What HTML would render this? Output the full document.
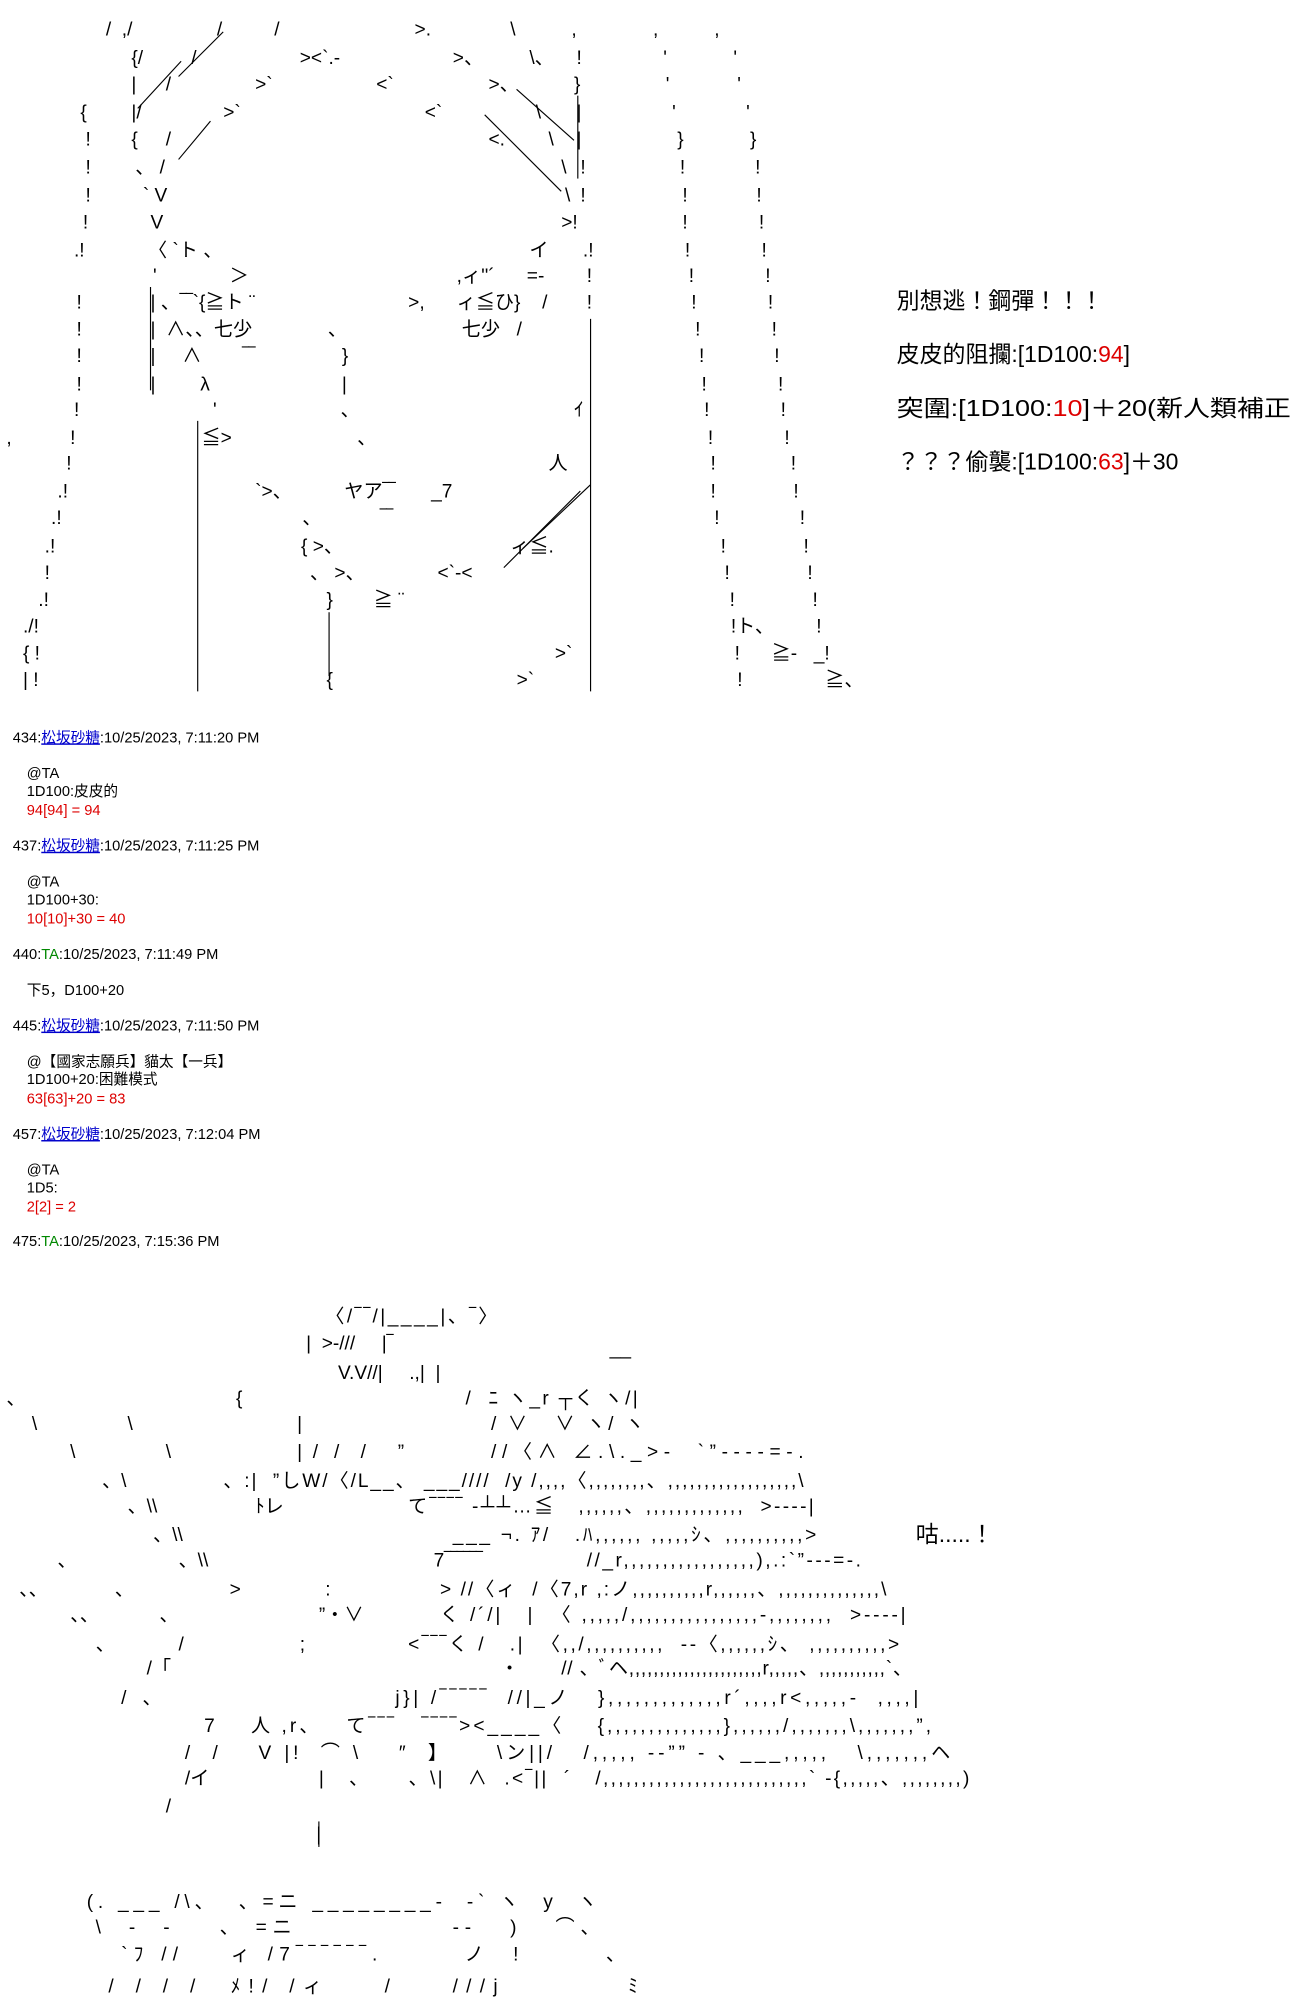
<!DOCTYPE html>
<html><head><meta charset="utf-8"><style>
html,body{margin:0;padding:0;background:#fff;}
svg{display:block;}
text{font-family:"Liberation Sans","Noto Sans CJK JP",sans-serif;fill:#000;white-space:pre;}
.a{font-size:15px;}
.p{font-size:11.5px;}
.r{fill:#d00;}
.b{fill:#00c;text-decoration:underline;}
.g{fill:#080;}
.big{font-size:18px;}
line{stroke:#000;stroke-width:0.9;}
</style></head><body>
<svg width="1300" height="2000" viewBox="0 0 1019.2 1568" xmlns="http://www.w3.org/2000/svg">
<g class="a">
<text x="83" y="28">/  ,/</text><text x="170" y="28">/</text><text x="215" y="28">/</text><text x="325" y="28">&gt;.</text><text x="400" y="28">\</text><text x="448" y="28">,</text><text x="512" y="28">,</text><text x="560" y="28">,</text>
<text x="103" y="50">{/</text><text x="150" y="50">/</text><text x="235" y="50">&gt;&lt;`.-</text><text x="355" y="50">&gt;、</text><text x="415" y="50">\、</text><text x="452" y="50">!</text><text x="520" y="50">'</text><text x="575" y="50">'</text>
<text x="103" y="71">|</text><text x="130" y="71">/</text><text x="200" y="71">&gt;`</text><text x="295" y="71">&lt;`</text><text x="383" y="71">&gt;、</text><text x="450" y="71">}</text><text x="522" y="71">'</text><text x="578" y="71">'</text>
<text x="63" y="93">{</text><text x="103" y="93">|/</text><text x="175" y="93">&gt;`</text><text x="333" y="93">&lt;`</text><text x="420" y="93">\</text><text x="452" y="93">|</text><text x="527" y="93">'</text><text x="585" y="93">'</text>
<text x="67" y="114">!</text><text x="103" y="114">{</text><text x="130" y="114">/</text><text x="383" y="114">&lt;.</text><text x="430" y="114">\</text><text x="452" y="114">|</text><text x="531" y="114">}</text><text x="588" y="114">}</text>
<text x="67" y="136">!</text><text x="106" y="136">、 /</text><text x="440" y="136">\</text><text x="455" y="136">!</text><text x="533" y="136">!</text><text x="592" y="136">!</text>
<text x="67" y="158">!</text><text x="112" y="158">` V</text><text x="443" y="158">\</text><text x="455" y="158">!</text><text x="535" y="158">!</text><text x="593" y="158">!</text>
<text x="65" y="179">!</text><text x="118" y="179">V</text><text x="440" y="179">&gt;!</text><text x="535" y="179">!</text><text x="595" y="179">!</text>
<text x="58" y="201">.!</text><text x="116" y="201">〈 `ト 、</text><text x="415" y="201">イ</text><text x="457" y="201">.!</text><text x="537" y="201">!</text><text x="597" y="201">!</text>
<text x="120" y="221">'</text><text x="180" y="221">＞</text><text x="358" y="221">,ィ''´</text><text x="413" y="221">=-</text><text x="460" y="221">!</text><text x="540" y="221">!</text><text x="600" y="221">!</text>
<text x="60" y="242">!</text><text x="118" y="242">| 、‾‾`{≧ト ¨</text><text x="320" y="242">&gt;,</text><text x="358" y="242">ィ≦ひ}</text><text x="425" y="242">/</text><text x="460" y="242">!</text><text x="542" y="242">!</text><text x="602" y="242">!</text>
<text x="60" y="263">!</text><text x="118" y="263">|  ∧、、七少</text><text x="257" y="263">、</text><text x="362" y="263">七少</text><text x="405" y="263">/</text><text x="545" y="263">!</text><text x="605" y="263">!</text>
<text x="60" y="284">!</text><text x="118" y="284">|</text><text x="143" y="284">∧</text><text x="190" y="284">‾‾</text><text x="268" y="284">}</text><text x="548" y="284">!</text><text x="607" y="284">!</text>
<text x="60" y="306">!</text><text x="118" y="306">|</text><text x="157" y="306">λ</text><text x="268" y="306">|</text><text x="550" y="306">!</text><text x="610" y="306">!</text>
<text x="58" y="326">!</text><text x="167" y="326">'</text><text x="267" y="326">、</text><text x="450" y="326">ｲ</text><text x="552" y="326">!</text><text x="612" y="326">!</text>
<text x="5" y="348">,</text><text x="55" y="348">!</text><text x="158" y="348">≦&gt;</text><text x="280" y="348">、</text><text x="555" y="348">!</text><text x="615" y="348">!</text>
<text x="52" y="368">!</text><text x="430" y="368">人</text><text x="557" y="368">!</text><text x="620" y="368">!</text>
<text x="45" y="390">.!</text><text x="200" y="390">`&gt;、</text><text x="270" y="390">ヤア‾‾</text><text x="338" y="390">_7</text><text x="557" y="390">!</text><text x="622" y="390">!</text>
<text x="40" y="411">.!</text><text x="237" y="411">、</text><text x="298" y="411">‾‾</text><text x="560" y="411">!</text><text x="627" y="411">!</text>
<text x="35" y="433">.!</text><text x="236" y="433">{ &gt;、</text><text x="400" y="433">ィ≦.</text><text x="565" y="433">!</text><text x="630" y="433">!</text>
<text x="35" y="454">!</text><text x="243" y="454">、 &gt;、</text><text x="343" y="454">&lt;`-&lt;</text><text x="568" y="454">!</text><text x="633" y="454">!</text>
<text x="30" y="475">.!</text><text x="256" y="475">}</text><text x="293" y="475">≧ ¨</text><text x="572" y="475">!</text><text x="637" y="475">!</text>
<text x="18" y="496">./!</text><text x="573" y="496">!ト、</text><text x="640" y="496">!</text>
<text x="18" y="517">{ !</text><text x="435" y="517">&gt;`</text><text x="576" y="517">!</text><text x="605" y="517">≧-</text><text x="638" y="517">_!</text>
<text x="18" y="538">| !</text><text x="256" y="538">{</text><text x="405" y="538">&gt;`</text><text x="578" y="538">!</text><text x="647" y="538">≧、</text>
</g>
<line x1="463" y1="250" x2="463" y2="542"/>
<line x1="155" y1="330" x2="155" y2="542"/>
<line x1="258" y1="480" x2="258" y2="530"/>
<line x1="453" y1="75" x2="453" y2="140"/>
<line x1="118" y1="225" x2="118" y2="306"/>
<line x1="108" y1="85" x2="142" y2="48"/>
<line x1="140" y1="60" x2="175" y2="25"/>
<line x1="380" y1="90" x2="440" y2="150"/>
<line x1="405" y1="70" x2="450" y2="110"/>
<line x1="140" y1="125" x2="165" y2="95"/>
<line x1="395" y1="445" x2="455" y2="385"/>
<line x1="410" y1="430" x2="463" y2="380"/>

<g class="p">
<text x="10" y="582">434:<tspan class="b">松坂砂糖</tspan>:10/25/2023, 7:11:20 PM</text>
<text x="21" y="610">@TA</text><text x="21" y="624">1D100:皮皮的</text><text x="21" y="639" class="r">94[94] = 94</text>
<text x="10" y="667">437:<tspan class="b">松坂砂糖</tspan>:10/25/2023, 7:11:25 PM</text>
<text x="21" y="695">@TA</text><text x="21" y="709">1D100+30:</text><text x="21" y="724" class="r">10[10]+30 = 40</text>
<text x="10" y="752">440:<tspan class="g">TA</tspan>:10/25/2023, 7:11:49 PM</text>
<text x="21" y="780">下5，D100+20</text>
<text x="10" y="808">445:<tspan class="b">松坂砂糖</tspan>:10/25/2023, 7:11:50 PM</text>
<text x="21" y="836">@【國家志願兵】貓太【一兵】</text><text x="21" y="850">1D100+20:困難模式</text><text x="21" y="865" class="r">63[63]+20 = 83</text>
<text x="10" y="893">457:<tspan class="b">松坂砂糖</tspan>:10/25/2023, 7:12:04 PM</text>
<text x="21" y="921">@TA</text><text x="21" y="935">1D5:</text><text x="21" y="950" class="r">2[2] = 2</text>
<text x="10" y="977">475:<tspan class="g">TA</tspan>:10/25/2023, 7:15:36 PM</text>
</g>

<g class="big">
<text x="703" y="242">別想逃！鋼彈！！！</text>
<text x="703" y="284">皮皮的阻攔:[1D100:<tspan class="r">94</tspan>]</text>
<text x="703" y="326" textLength="309" lengthAdjust="spacingAndGlyphs">突圍:[1D100:<tspan class="r">10</tspan>]＋20(新人類補正</text>
<text x="703" y="368">？？？偷襲:[1D100:<tspan class="r">63</tspan>]＋30</text>
<text x="718" y="1209">咕.....！</text>
</g>

<g class="a">
<text x="255" y="1037" textLength="135" lengthAdjust="spacing">〈/‾‾/|____|、‾〉</text>
<text x="240" y="1058">|  &gt;-///     |‾</text>
<text x="265" y="1081">V.V//|     .,|  |</text><text x="478" y="1062">__</text>
<text x="5" y="1101">、</text><text x="185" y="1101">{</text><text x="365" y="1101" textLength="135" lengthAdjust="spacing">/  ﾆ ヽ_r ┬く ヽ/|</text>
<text x="25" y="1121">\</text><text x="100" y="1121">\</text><text x="233" y="1121">|</text><text x="385" y="1121" textLength="120" lengthAdjust="spacing">/ ∨   ∨ ヽ/ ヽ</text>
<text x="55" y="1143">\</text><text x="130" y="1143">\</text><text x="233" y="1143">|  /   /    /      ”</text><text x="385" y="1143" textLength="245" lengthAdjust="spacing">//〈∧ ∠.\._&gt;‐  `”‐‐‐‐=-.</text>
<text x="80" y="1166">、\</text><text x="175" y="1166" textLength="455" lengthAdjust="spacing">、:|  ”しW/〈/L__、 ___////  /y /,,,,〈,,,,,,,,、,,,,,,,,,,,,,,,,,,\</text>
<text x="100" y="1186">、\\</text><text x="200" y="1186">ﾄレ</text><text x="320" y="1186" textLength="318" lengthAdjust="spacing">て‾‾‾‾ -┴┴…≦   ,,,,,,、,,,,,,,,,,,,,  &gt;‐‐‐‐|</text>
<text x="120" y="1208">、\\</text><text x="355" y="1208" textLength="285" lengthAdjust="spacing">___ ¬. ｱ/   .ﾊ,,,,,, ,,,,,ｼ、,,,,,,,,,,&gt;</text>
<text x="45" y="1228">、</text><text x="140" y="1228">、\\</text><text x="340" y="1228">7‾‾‾‾‾‾</text><text x="460" y="1228" textLength="215" lengthAdjust="spacing">//_r,,,,,,,,,,,,,,,,,),.:`”‐‐‐=-.</text>
<text x="15" y="1251">、、</text><text x="90" y="1251">、</text><text x="180" y="1251">&gt;</text><text x="255" y="1251">:</text><text x="345" y="1251" textLength="350" lengthAdjust="spacing">&gt; //〈ィ  /〈7,r ,:ノ,,,,,,,,,,r,,,,,,、,,,,,,,,,,,,,,\</text>
<text x="55" y="1271">、、</text><text x="125" y="1271">、</text><text x="250" y="1271">”・∨</text><text x="345" y="1271" textLength="365" lengthAdjust="spacing">く /´/|   |  〈 ,,,,,/,,,,,,,,,,,,,,,,-,,,,,,,,  &gt;‐‐‐‐|</text>
<text x="75" y="1294">、</text><text x="140" y="1294">/</text><text x="235" y="1294">;</text><text x="320" y="1294" textLength="385" lengthAdjust="spacing">&lt;‾‾‾く /   .|  〈,,/,,,,,,,,,,  ‐‐〈,,,,,,ｼ、 ,,,,,,,,,,&gt;</text>
<text x="115" y="1313">/「</text><text x="392" y="1313">・</text><text x="440" y="1313" textLength="275" lengthAdjust="spacing">// 、ﾞヘ,,,,,,,,,,,,,,,,,,,,,,r,,,,,、,,,,,,,,,,,`、</text>
<text x="95" y="1336">/   、</text><text x="310" y="1336" textLength="410" lengthAdjust="spacing">j}| /‾‾‾‾‾  //|_ノ   },,,,,,,,,,,,,r´,,,,r&lt;,,,,,-  ,,,,|</text>
<text x="160" y="1358" textLength="570" lengthAdjust="spacing">7    人 ,r、   て‾‾‾   ‾‾‾‾&gt;&lt;____〈    {,,,,,,,,,,,,,,},,,,,,/,,,,,,,\,,,,,,,”,</text>
<text x="145" y="1379" textLength="600" lengthAdjust="spacing">/  /    V |!  ⌒ \    ″  】     \ン||/   /,,,,, ‐‐”” ‐ 、___,,,,,   \,,,,,,,ヘ</text>
<text x="145" y="1399">/イ</text><text x="250" y="1399" textLength="510" lengthAdjust="spacing">|   、     、\|   ∧  .&lt;‾||  ´   /,,,,,,,,,,,,,,,,,,,,,,,,,,,` ‐{,,,,,、,,,,,,,,)</text>
<text x="130" y="1421">/</text>
<text x="248" y="1443">|</text>
<text x="68" y="1496" textLength="400" lengthAdjust="spacing">(. ___ /\、  、=ニ ________-  -` ヽ  y  ヽ</text>
<text x="75" y="1516" textLength="395" lengthAdjust="spacing">\  -  -    、 =ニ              --   )   ⌒、</text>
<text x="95" y="1537" textLength="395" lengthAdjust="spacing">`ﾌ //    ィ /7‾‾‾‾‾‾.       ノ  !       、</text>
<text x="85" y="1562" textLength="415" lengthAdjust="spacing">/ / / /  ﾒ!/ /ィ    /    ///j         ﾐ</text>
</g>
<line x1="250" y1="1428" x2="250" y2="1448"/>
</svg>
</body></html>
